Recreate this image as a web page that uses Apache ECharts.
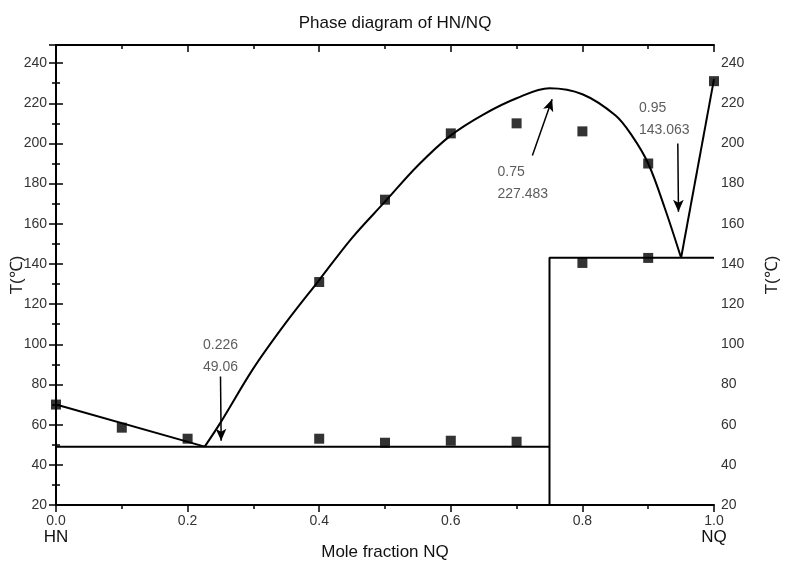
<!DOCTYPE html>
<html><head><meta charset="utf-8">
<script src="https://cdn.jsdelivr.net/npm/echarts@6/dist/echarts.min.js"></script>
</head><body style="margin:0;background:#fff">
<div id="c" style="width:790px;height:568px"></div>
<script>
// Measured points (liquidus and solidus)
const upperX = [0, 0.1, 0.2, 0.4, 0.5, 0.6, 0.7, 0.8, 0.9, 1.0];
const upperT = [70, 58.5, 53, 131, 172, 205, 210, 206, 190, 231];
const lowerX = [0.4, 0.5, 0.6, 0.7, 0.8, 0.9];
const lowerT = [53, 51, 52, 51.5, 140.5, 143];
// Fitted curves
const leftLiqX = [0, 0.226];
const leftLiqT = [70, 49.06];
const domeX = [0.226, 0.25, 0.3, 0.35, 0.4, 0.45, 0.5, 0.55, 0.6, 0.65, 0.7, 0.75, 0.8, 0.85, 0.875, 0.9, 0.925, 0.95];
const domeT = [49.06, 61, 88, 111, 132, 153, 171, 189, 204, 214.5, 222.5, 227.483, 224.5, 214, 204, 190, 168, 143.063];
const rightLiqX = [0.95, 1.0];
const rightLiqT = [143.063, 232];
const solidusX = [0, 0.75, 0.75, 0.75, 1.0];
const solidusT = [49.06, 49.06, 20, 143.063, 143.063];
// Annotations
const noteText = ['0.226\n49.06', '0.75\n227.483', '0.95\n143.063'];
const noteX = [0.25, 0.671, 0.886];
const noteT = [94, 180, 212];
const noteAlign = ['center', 'left', 'left'];
const arrowFrom = [[0.25, 84], [0.724, 194], [0.945, 200]];
const arrowTo = [[0.251, 52], [0.754, 222], [0.946, 166]];
const yTicks = [20, 40, 60, 80, 100, 120, 140, 160, 180, 200, 220, 240];

const zip = (a, b) => a.map((v, i) => [v, b[i]]);
const font = 'Liberation Sans, Arial, sans-serif';
const lineCommon = { type: 'line', showSymbol: false, symbol: 'none', lineStyle: { color: '#000', width: 2 }, silent: true, z: 3 };
const yCommon = {
  type: 'value', min: 20, max: 249, interval: 20,
  axisLine: { show: true, lineStyle: { color: '#000', width: 2 } },
  axisTick: { show: true, inside: false, length: 7, lineStyle: { color: '#000', width: 1.5 } },
  minorTick: { show: true, splitNumber: 2, length: 4, lineStyle: { color: '#000', width: 1.5 } },
  splitLine: { show: false },
  nameLocation: 'middle', nameMoveOverlap: false,
  nameTextStyle: { color: '#222', fontSize: 17, fontFamily: font }
};
const yLabel = m => ({ color: '#333', fontSize: 14, fontFamily: font, margin: m,
  formatter: v => yTicks.includes(v) ? String(v) : '' });
const chart = echarts.init(document.getElementById('c'));
chart.setOption({
  backgroundColor: '#fff',
  animation: false,
  title: { text: 'Phase diagram of HN/NQ', left: 'center', top: 10,
    textStyle: { fontSize: 17, fontWeight: 'normal', color: '#111', fontFamily: font } },
  grid: { left: 56, right: 76, top: 45, bottom: 63, containLabel: false, outerBoundsMode: 'none' },
  xAxis: [{
    type: 'value', min: 0, max: 1, interval: 0.2, position: 'bottom',
    axisLine: { show: true, onZero: false, lineStyle: { color: '#000', width: 2 } },
    axisTick: { show: true, length: 7, lineStyle: { color: '#000', width: 1.5 } },
    minorTick: { show: true, splitNumber: 2, length: 4, lineStyle: { color: '#000', width: 1.5 } },
    splitLine: { show: false },
    axisLabel: { color: '#333', fontSize: 14, fontFamily: font, margin: 9,
      formatter: v => {
        const s = v.toFixed(1);
        if (v === 0) return s + '\n{b|HN}';
        if (v === 1) return s + '\n{b|NQ}';
        return s;
      },
      rich: { b: { fontSize: 17, color: '#111', fontFamily: font, padding: [1, 0, 0, 0] } } },
    name: 'Mole fraction NQ', nameLocation: 'middle', nameGap: 39, nameMoveOverlap: false,
    nameTextStyle: { color: '#111', fontSize: 17, fontFamily: font }
  }, {
    type: 'value', min: 0, max: 1, interval: 0.2, position: 'top',
    axisLine: { show: true, onZero: false, lineStyle: { color: '#000', width: 2 } },
    axisTick: { show: true, inside: true, length: 7, lineStyle: { color: '#000', width: 1.5 } },
    minorTick: { show: true, splitNumber: 2, length: 4, lineStyle: { color: '#000', width: 1.5 } },
    splitLine: { show: false },
    axisLabel: { show: false }
  }],
  yAxis: [
    Object.assign({}, yCommon, { position: 'left', name: 'T(\u2103)', nameGap: 30, axisLabel: yLabel(9) }),
    Object.assign({}, yCommon, { position: 'right', name: 'T(\u2103)', nameGap: 50, axisLabel: yLabel(7) })
  ],
  series: [
    Object.assign({}, lineCommon, { data: zip(solidusX, solidusT) }),
    Object.assign({}, lineCommon, { data: zip(leftLiqX, leftLiqT) }),
    Object.assign({}, lineCommon, { data: zip(domeX, domeT), smooth: 0.35 }),
    Object.assign({}, lineCommon, { data: zip(rightLiqX, rightLiqT) }),
    { type: 'scatter', symbol: 'rect', symbolSize: 10, itemStyle: { color: '#000' }, z: 4,
      data: zip(upperX, upperT) },
    { type: 'scatter', symbol: 'rect', symbolSize: 10, itemStyle: { color: '#000' }, z: 4,
      data: zip(lowerX, lowerT) },
    { type: 'scatter', symbolSize: 1, itemStyle: { color: 'rgba(0,0,0,0)' }, silent: true, z: 5,
      data: noteText.map((t, i) => ({
        value: [noteX[i], noteT[i]],
        label: { show: true, position: 'inside', formatter: t, align: noteAlign[i],
          color: '#333', fontSize: 14, lineHeight: 22, fontFamily: font }
      })),
      markLine: { silent: true, symbol: ['none', 'arrow'], symbolSize: [8, 12], animation: false,
        label: { show: false },
        lineStyle: { color: '#000', width: 1.5, type: 'solid' },
        data: arrowFrom.map((f, i) => [{ coord: f }, { coord: arrowTo[i] }]) }
    }
  ]
});
</script>
</body></html>
